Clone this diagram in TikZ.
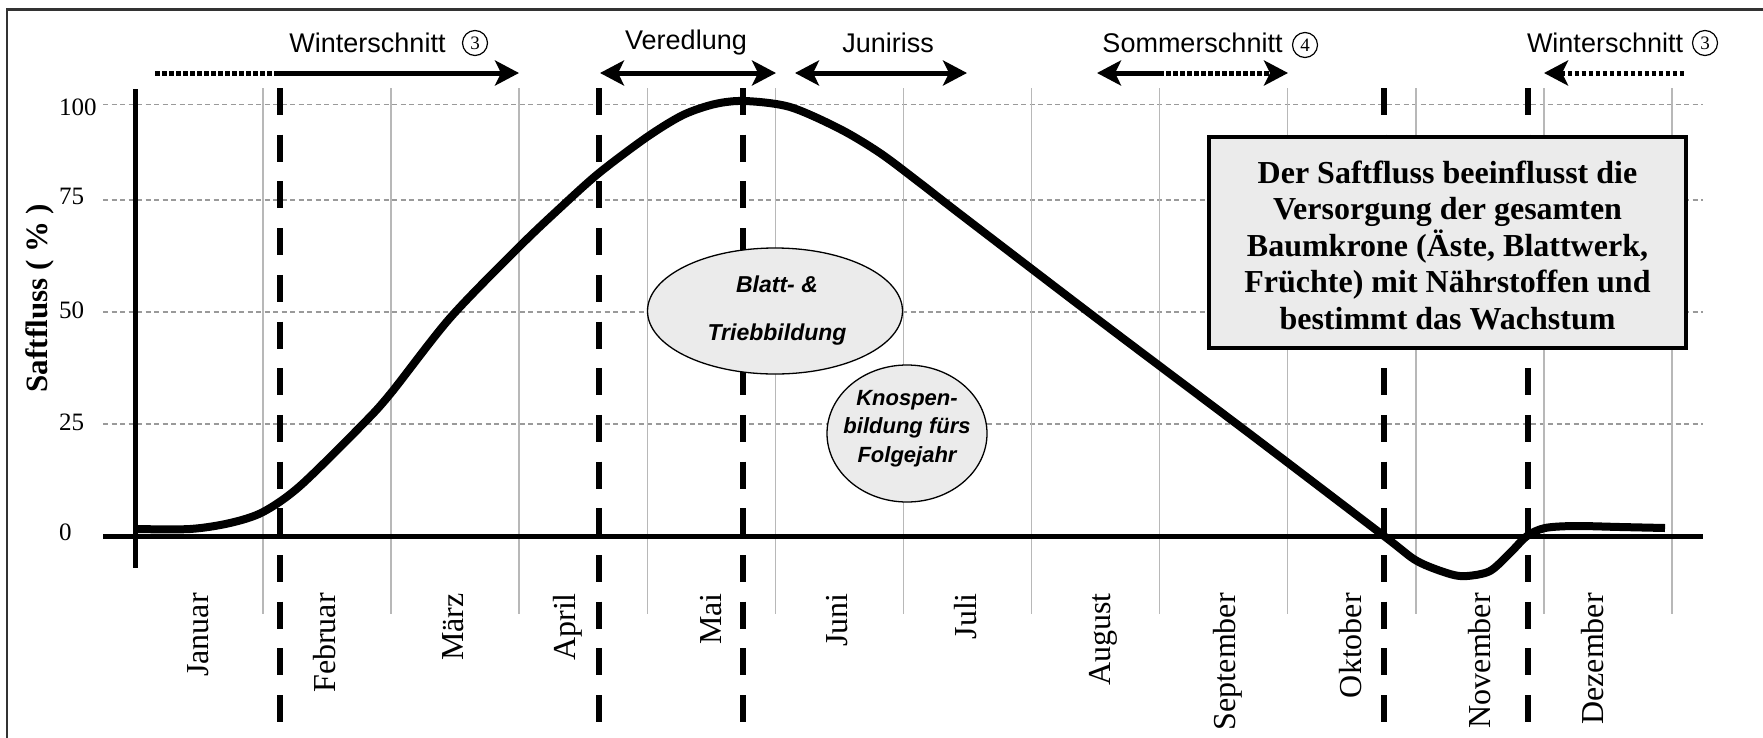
\documentclass[tikz,border=0pt]{standalone}
\usepackage{fontspec}
\setmainfont{Liberation Serif}
\newfontfamily\lsans{Liberation Sans}
\usetikzlibrary{arrows.meta,shapes.geometric}
\definecolor{gridgray}{HTML}{9A9A9A}
\definecolor{vgray}{HTML}{B8B8B8}
\definecolor{fillgray}{HTML}{EBEBEB}
\definecolor{framegray}{HTML}{333333}
\tikzset{
  gridline/.style={draw=gridgray, line width=1.3pt, dash pattern=on 5pt off 3.5pt},
  vline/.style={draw=vgray, line width=1.5pt},
  axisline/.style={draw=black, line width=5pt},
  bdash/.style={draw=black, line width=6pt, dash pattern=on 27pt off 19.7pt},
  curveline/.style={draw=black, line width=8pt, line join=round},
  ticklab/.style={anchor=west, inner sep=0pt, font=\fontsize{25}{25}\selectfont},
  monthlab/.style={rotate=90, anchor=base east, inner sep=0pt, font=\fontsize{32}{32}\selectfont},
  toplab/.style={inner sep=0pt, font=\lsans\fontsize{27}{27}\selectfont},
  circnum/.style={circle, draw=black, line width=1.2pt, minimum size=25pt, inner sep=0pt, font=\fontsize{19}{19}\selectfont},
  tipstyle/.tip={Stealth[length=24pt, width=25pt, inset=6pt]},
  solidarrow/.style={draw=black, line width=5pt},
  dotarrow/.style={draw=black, line width=5pt, dash pattern=on 4.5pt off 2.5pt},
  bubble/.style={ellipse, draw=black, line width=1.3pt, fill=fillgray, inner sep=0pt},
  bubbletext/.style={align=center, inner sep=0pt},
}
\begin{document}
\begin{tikzpicture}[x=1pt, y=-1pt]
\useasboundingbox (0,0) rectangle (1763,737);
\fill[white] (0,0) rectangle (1763,737);
% frame
\draw[framegray, line width=2.5pt] (7,740) -- (7,9.5) -- (1766,9.5);
% horizontal grid
\foreach \yy in {104.7,200,312,424}
  \draw[gridline] (103,\yy) -- (1703,\yy);
% vertical month lines
\foreach \k in {1,...,12}
  \draw[vline] ({135+128.08*\k},88) -- ({135+128.08*\k},614);
% axes
\draw[axisline] (135,89) -- (135,568);
\draw[axisline] (103,536) -- (1703,536);
% tick labels
\node[ticklab] (t100) at (59,107) {100};
\node[ticklab] (t75) at (59,196) {75};
\node[ticklab] (t50) at (59,310) {50};
\node[ticklab] (t25) at (59,422) {25};
\node[ticklab] (t0) at (59,532) {0};
% axis label
\node[rotate=90, inner sep=0pt, font=\bfseries\fontsize{31}{31}\selectfont] (ylab) at (40,298) {Saftfluss ( \% )};
% black dashed verticals
\foreach \xx in {279.6,599,743,1384,1527.5}
  \draw[bdash] (\xx,88) -- (\xx,745);
% curve
\draw[curveline] plot[smooth, tension=0.5] coordinates {
 (135,529) (190,529) (230,523) (263,512) (300,486) (363,424) (391,393)
 (450,318) (519,247) (560,208) (599,173) (647,137) (683,115) (715,104)
 (745,101) (790,107) (840,129) (880,153) (920,183) (960,214) (1100,321)
 (1250,434) (1384,536) (1417,561) (1450,574) (1467,576) (1490,571)
 (1510,553) (1527,536) (1545,528) (1575,526) (1620,527) (1665,528)};
% month labels
\node[monthlab] (jan) at (208.5,593) {Januar};
\node[monthlab] (feb) at (335.5,593) {Februar};
\node[monthlab] (mar) at (463.5,593) {März};
\node[monthlab] (apr) at (575.5,593) {April};
\node[monthlab] (mai) at (721.5,593) {Mai};
\node[monthlab] (jun) at (847.5,593) {Juni};
\node[monthlab] (jul) at (976.5,593) {Juli};
\node[monthlab] (aug) at (1110.5,593) {August};
\node[monthlab] (sep) at (1235.5,593) {September};
\node[monthlab] (okt) at (1361.5,593) {Oktober};
\node[monthlab] (nov) at (1490.5,593) {November};
\node[monthlab] (dez) at (1603.5,593) {Dezember};
% bubbles
\node[bubble, minimum width=255pt, minimum height=126pt] (e1) at (775,311) {};
\node[bubbletext, font=\lsans\bfseries\itshape\fontsize{23}{48}\selectfont] (e1t) at (777,311) {Blatt- \&\\Triebbildung};
\node[bubble, minimum width=160pt, minimum height=137pt] (e2) at (907,433.5) {};
\node[bubbletext, font=\lsans\bfseries\itshape\fontsize{22}{28.5}\selectfont] (e2t) at (907,428.5) {Knospen-\\bildung fürs\\Folgejahr};
% info box
\node[draw=black, line width=4pt, fill=fillgray, minimum width=477pt, minimum height=211pt, inner sep=0pt] (box) at (1447.5,242.5) {};
\node[align=center, inner sep=0pt, font=\bfseries\fontsize{32}{36.5}\selectfont] (boxt) at (1447.5,245)
 {Der Saftfluss beeinflusst die\\Versorgung der gesamten\\Baumkrone (Äste, Blattwerk,\\Früchte) mit Nährstoffen und\\bestimmt das Wachstum};
% top labels
\node[toplab] (lw1) at (367.5,43) {Winterschnitt};
\node[circnum] (cw1) at (475,43) {3};
\node[toplab] (lv) at (686,43) {Veredlung};
\node[toplab] (lj) at (888,43) {Juniriss};
\node[toplab] (ls) at (1192.5,43) {Sommerschnitt};
\node[circnum] (cs) at (1305,45) {4};
\node[toplab] (lw2) at (1605,43) {Winterschnitt};
\node[circnum] (cw2) at (1705,43) {3};
% top arrows
\coordinate (w1a) at (155,73);
\coordinate (w1b) at (274,73);
\coordinate (w1c) at (519,73);
\draw[dotarrow] (w1a) -- (w1b);
\draw[solidarrow, -tipstyle] (w1b) -- (w1c);
\coordinate (v1) at (600,73);
\coordinate (v2) at (776,73);
\draw[solidarrow, tipstyle-tipstyle] (v1) -- (v2);
\coordinate (j1) at (795,73);
\coordinate (j2) at (967,73);
\draw[solidarrow, tipstyle-tipstyle] (j1) -- (j2);
\coordinate (s1) at (1097,73);
\coordinate (s2) at (1159,73);
\coordinate (s3) at (1288,73);
\draw[solidarrow, tipstyle-] (s1) -- (s2);
\draw[dotarrow, -tipstyle] (s2) -- (s3);
\coordinate (w2a) at (1544,73);
\coordinate (w2b) at (1685,73);
\draw[dotarrow, tipstyle-] (w2a) -- (w2b);
\end{tikzpicture}
\end{document}
